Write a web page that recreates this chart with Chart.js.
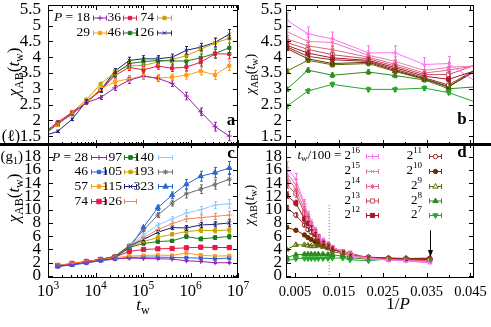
<!DOCTYPE html>
<html>
<head>
<meta charset="utf-8">
<script src="https://cdn.jsdelivr.net/npm/chart.js@4.4.1/dist/chart.umd.min.js"></script>
<style>
  body { margin: 0; background: #fff; width: 491px; height: 327px; overflow: hidden; position: relative; }
  canvas { position: absolute; }
  #sep { position: absolute; left: 0; top: 143px; width: 491px; height: 3px; background: #000; }
</style>
</head>
<body>
<canvas id="chA" width="245" height="150" style="left:0;top:0"></canvas>
<canvas id="chB" width="246" height="150" style="left:245px;top:0"></canvas>
<canvas id="chC" width="252" height="189" style="left:0;top:138px"></canvas>
<canvas id="chD" width="246" height="189" style="left:245px;top:138px"></canvas>
<div id="sep"></div>
<script>
// ---- panel a : chi_AB(t_w) vs t_w, model (l) ----
let twA = [800, 1600, 3200, 6400, 12800, 25600, 51200, 102400, 204800, 409600, 819200, 1638400, 3276800, 6553600];
let pA = [18, 29, 36, 46, 74, 126];
let chiA18  = [1.50, 1.91, 2.20, 2.56, 2.72, 3.03, 3.27, 3.40, 3.33, 3.17, 2.77, 2.27, 1.80, 1.50];
let chiA29  = [1.55, 1.88, 2.19, 2.58, 3.00, 3.22, 3.32, 3.40, 3.34, 3.37, 3.43, 3.56, 3.44, 3.73];
let chiA36  = [1.60, 1.94, 2.25, 2.56, 2.95, 3.42, 3.68, 3.60, 3.72, 3.65, 3.69, 3.84, 4.11, 4.10];
let chiA46  = [1.58, 1.88, 2.20, 2.58, 2.95, 3.47, 3.80, 3.86, 3.90, 3.88, 3.88, 3.98, 4.12, 4.30];
let chiA74  = [1.60, 1.85, 2.25, 2.65, 3.15, 3.52, 3.73, 3.74, 3.85, 3.93, 4.05, 4.25, 4.45, 4.60];
let chiA126 = [1.50, 1.65, 2.03, 2.60, 2.95, 3.56, 3.90, 3.95, 3.95, 4.00, 4.22, 4.32, 4.47, 4.73];
let errA = [0.03, 0.04, 0.04, 0.05, 0.06, 0.08, 0.10, 0.10, 0.10, 0.10, 0.12, 0.12, 0.14, 0.15];
let yTicksA = [1.5, 2, 2.5, 3, 3.5, 4, 4.5, 5, 5.5];

// ---- panel b : chi_AB vs 1/P, model (l) ----
let pB = [323, 126, 74, 46, 36, 29, 25, 18];
let kB = [16, 15, 14, 13, 12, 11, 10, 9, 8, 7];
let chiB16 = [5.18, 4.74, 4.58, 4.14, 4.14, 3.77, 3.80, 2.37];
let chiB15 = [4.82, 4.50, 4.47, 4.06, 3.87, 3.58, 3.68, 3.79];
let chiB14 = [4.58, 4.36, 4.24, 4.00, 3.78, 3.50, 3.59, 3.96];
let chiB13 = [4.47, 4.25, 4.08, 3.95, 3.72, 3.45, 3.45, 4.22];
let chiB12 = [4.38, 4.13, 3.98, 3.90, 3.67, 3.40, 3.30, 4.00];
let chiB11 = [4.33, 4.03, 3.92, 3.87, 3.62, 3.35, 3.12, 4.35];
let chiB10 = [4.28, 3.95, 3.80, 3.84, 3.58, 3.32, 3.07, 4.30];
let chiB9  = [3.56, 3.90, 3.76, 3.80, 3.55, 3.30, 3.05, 4.48];
let chiB8  = [2.98, 3.59, 3.43, 3.53, 3.42, 3.28, 3.00, 3.15];
let chiB7  = [2.44, 2.93, 3.14, 2.98, 2.98, 3.02, 2.88, 2.11];
let errB = [0.22, 0.14, 0.11, 0.09, 0.08, 0.07, 0.07, 0.07, 0.07, 0.07];

// ---- panel c : chi_AB(t_w) vs t_w, model (g1) ----
let twC = [1600, 3200, 6400, 12800, 25600, 51200, 102400, 204800, 409600, 819200, 1638400, 3276800, 6553600];
let pC = [28, 46, 57, 74, 97, 105, 115, 126, 140, 193, 323];
let chiC28  = [1.50, 1.75, 2.05, 2.40, 2.60, 2.70, 2.65, 2.60, 2.55, 2.30, 2.20, 2.00, 2.00];
let chiC46  = [1.45, 1.65, 1.95, 2.30, 2.55, 2.80, 2.85, 2.85, 2.80, 2.75, 2.70, 2.60, 2.70];
let chiC57  = [1.60, 1.85, 2.15, 2.45, 2.75, 3.00, 3.10, 3.15, 3.10, 3.45, 3.15, 3.00, 3.05];
let chiC74  = [1.60, 1.90, 2.20, 2.50, 2.85, 3.70, 4.00, 4.10, 4.15, 4.25, 4.35, 4.30, 4.30];
let chiC97  = [1.55, 1.80, 2.15, 2.50, 2.90, 4.30, 4.90, 5.20, 5.30, 5.95, 5.60, 5.80, 5.95];
let chiC105 = [1.55, 1.80, 2.15, 2.50, 2.90, 4.40, 5.20, 5.80, 6.30, 6.70, 6.90, 6.85, 6.95];
let chiC115 = [1.55, 1.80, 2.15, 2.50, 2.95, 4.50, 5.50, 6.60, 7.30, 7.25, 7.70, 7.80, 8.00];
let chiC126 = [1.55, 1.80, 2.15, 2.50, 2.95, 4.50, 5.80, 7.00, 7.90, 8.60, 8.80, 9.00, 9.20];
let chiC140 = [1.55, 1.80, 2.15, 2.50, 2.95, 4.60, 6.20, 7.70, 8.60, 9.50, 10.0, 10.7, 10.9];
let chiC193 = [1.50, 1.75, 2.10, 2.50, 2.95, 4.60, 6.90, 9.20, 11.0, 12.4, 13.1, 13.8, 14.6];
let chiC323 = [1.45, 1.70, 2.05, 2.40, 2.80, 4.20, 7.35, 10.3, 12.2, 13.85, 15.05, 15.6, 16.3];
let relErrC = [0.02, 0.02, 0.02, 0.02, 0.02, 0.03, 0.03, 0.04, 0.04, 0.05, 0.05, 0.05, 0.06];
let yTicksC = [0, 2, 4, 6, 8, 10, 12, 14, 16, 18];
let xTicksC = [1e3, 1e4, 1e5, 1e6, 1e7];

// ---- panel d : chi_AB vs 1/P, model (g1) ----
let pD = [323, 193, 140, 126, 115, 105, 97, 88, 80, 74, 63, 57, 46, 38, 33, 28];
let chiD16 = [16.3, 14.6, 10.9, 9.20, 8.00, 6.95, 5.95, 5.40, 4.90, 4.30, 3.70, 3.05, 2.70, 2.40, 2.30, 2.00];
let chiD15 = [15.6, 13.8, 10.7, 9.00, 7.80, 6.85, 5.80, 5.30, 4.80, 4.30, 3.70, 3.00, 2.60, 2.40, 2.30, 2.00];
let chiD14 = [15.05, 13.1, 10.0, 8.80, 7.70, 6.70, 5.60, 5.20, 4.80, 4.35, 3.70, 3.15, 2.70, 2.45, 2.35, 2.20];
let chiD13 = [13.85, 12.4, 9.50, 8.60, 7.25, 6.70, 5.95, 5.10, 4.70, 4.25, 3.65, 3.45, 2.75, 2.55, 2.45, 2.30];
let chiD12 = [12.2, 11.0, 8.60, 7.90, 7.30, 6.30, 5.30, 5.00, 4.60, 4.15, 3.60, 3.10, 2.80, 2.60, 2.50, 2.55];
let chiD11 = [10.3, 9.20, 7.70, 7.00, 6.60, 5.80, 5.20, 4.80, 4.50, 4.10, 3.60, 3.15, 2.85, 2.65, 2.55, 2.60];
let chiD10 = [7.35, 6.90, 6.20, 5.80, 5.50, 5.20, 4.90, 4.60, 4.30, 4.00, 3.55, 3.10, 2.85, 2.70, 2.60, 2.65];
let chiD9  = [4.00, 4.70, 4.70, 4.60, 4.50, 4.50, 4.60, 4.40, 4.20, 3.70, 3.40, 3.00, 2.80, 2.70, 2.65, 2.70];
let chiD8  = [2.80, 3.20, 3.30, 3.30, 3.30, 3.30, 3.30, 3.30, 3.25, 3.20, 3.00, 2.75, 2.55, 2.65, 2.65, 2.60];
let chiD7  = [2.30, 2.60, 2.65, 2.65, 2.65, 2.65, 2.65, 2.65, 2.65, 2.70, 2.70, 2.45, 2.30, 2.60, 2.60, 2.40];
let relErrD = [0.06, 0.055, 0.05, 0.045, 0.04, 0.035, 0.03, 0.03, 0.03, 0.03];
let xTicksD = [0.005, 0.015, 0.025, 0.035, 0.045];
let cutD = { x: 0.0128, y0: -0.3, y1: 10.7 };
let arrowD = { x: 1 / 28, y0: 6.9, y1: 2.85 };

// ---- styles ----
const FAM = "'Liberation Serif', 'DejaVu Serif', serif";
const F = (s, st) => (st ? st + ' ' : '') + s + 'px ' + FAM;

let colA = ['#9b20b0', '#ff9c1e', '#e41a48', '#1b7a1b', '#c9a200', '#1f1f7e'];
let stA = [{ s: 'cross', r: 2.5 }, { s: 'rect', r: 2.2 }, { s: 'rect', r: 2.2 }, { s: 'rect', r: 2.2 }, { s: 'rect', r: 2.2 }, { s: 'crossRot', r: 2.2 }];
let colC = ['#9b20b0', '#2a66d6', '#ff9c1e', '#e41a48', '#1b7a1b', '#c9a200', '#1f1f7e', '#ef8c55', '#90c8ff', '#6e6e6e', '#2a66d6'];
let stC = [{ s: 'cross', r: 2.5 }, { s: 'rect', r: 2.2 }, { s: 'rect', r: 2.2 }, { s: 'rect', r: 3 }, { s: 'rect', r: 2.4 },
  { s: 'rect', r: 2.2 }, { s: 'crossRot', r: 2.5 }, { s: 'line', r: 2.5 }, { s: 'line', r: 2.5 }, { s: 'star', r: 2.5 }, { s: 'triangle', r: 3 }];
let colD = ['#ff70ff', '#f07ab4', '#e06a8c', '#cc4a5e', '#a8142c', '#902a2a', '#6a3000', '#5b6b00', '#2f8a20', '#25a828'];
let stD = [{ s: 'cross', r: 2.5 }, { s: 'crossRot', r: 2.5 }, { s: 'star', r: 2.5 }, { s: 'rect', r: 2.8, open: true }, { s: 'rect', r: 2.8 },
  { s: 'circle', r: 2.2, open: true }, { s: 'circle', r: 2.2 }, { s: 'triangle', r: 3, open: true }, { s: 'triangle', r: 3 }, { s: 'triangle', r: 3, rot: 180 }];

// ---- text helpers ----
function drawRich(ctx, parts, x, y, align, rot) {
  ctx.save();
  ctx.translate(x, y);
  if (rot) ctx.rotate(rot);
  ctx.textBaseline = 'middle';
  ctx.textAlign = 'left';
  ctx.fillStyle = '#000';
  let w = 0;
  parts.forEach(p => { ctx.font = p.f; w += ctx.measureText(p.t).width; });
  let cx = align === 'center' ? -w / 2 : (align === 'right' ? -w : 0);
  parts.forEach(p => { ctx.font = p.f; ctx.fillText(p.t, cx, p.dy || 0); cx += ctx.measureText(p.t).width; });
  ctx.restore();
}
let chiParts = s => [
  { t: 'χ', f: F(s, 'italic') }, { t: 'AB', f: F(Math.round(s * 0.68)), dy: s * 0.3 },
  { t: '(', f: F(s) }, { t: 't', f: F(s, 'italic') }, { t: 'w', f: F(Math.round(s * 0.68)), dy: s * 0.3 }, { t: ')', f: F(s) }
];

function mark(ctx, st, x, y, color) {
  let r = st.r;
  ctx.save();
  ctx.translate(x, y);
  ctx.rotate((st.rot || 0) * Math.PI / 180);
  ctx.strokeStyle = color;
  ctx.fillStyle = st.open ? '#fff' : color;
  ctx.lineWidth = 1;
  ctx.beginPath();
  if (st.s === 'cross' || st.s === 'star') { ctx.moveTo(-r, 0); ctx.lineTo(r, 0); ctx.moveTo(0, -r); ctx.lineTo(0, r); }
  if (st.s === 'crossRot' || st.s === 'star') { let q = r * 0.75; ctx.moveTo(-q, -q); ctx.lineTo(q, q); ctx.moveTo(-q, q); ctx.lineTo(q, -q); }
  if (st.s === 'line') { ctx.moveTo(-r, 0); ctx.lineTo(r, 0); }
  if (st.s === 'rect') { let q = r * 0.75; ctx.rect(-q, -q, 2 * q, 2 * q); ctx.fill(); }
  if (st.s === 'circle') { ctx.arc(0, 0, r, 0, Math.PI * 2); ctx.fill(); }
  if (st.s === 'triangle') { ctx.moveTo(0, -r); ctx.lineTo(r * 0.9, r * 0.55); ctx.lineTo(-r * 0.9, r * 0.55); ctx.closePath(); ctx.fill(); }
  ctx.stroke();
  ctx.restore();
}

// ---- decoration plugin: frame, inward ticks, tick labels, error bars, legend ----
function makeDeco(cfg) {
  return {
    id: 'deco',
    afterDatasetsDraw(chart) {
      const ctx = chart.ctx, a = chart.chartArea, ys = chart.scales.y;
      ctx.save();
      ctx.beginPath(); ctx.rect(a.left, a.top, a.right - a.left, a.bottom - a.top); ctx.clip();
      ctx.lineWidth = 1;
      chart.data.datasets.forEach((ds, di) => {
        if (!ds.err) return;
        const meta = chart.getDatasetMeta(di);
        ctx.strokeStyle = ds.borderColor;
        meta.data.forEach((pt, i) => {
          const v = ds.data[i].y, e = ds.err[i];
          const x = Math.round(pt.x) + 0.5, y1 = ys.getPixelForValue(v + e), y2 = ys.getPixelForValue(v - e);
          ctx.beginPath();
          ctx.moveTo(x, y1); ctx.lineTo(x, y2);
          ctx.moveTo(x - 1.5, y1); ctx.lineTo(x + 1.5, y1);
          ctx.moveTo(x - 1.5, y2); ctx.lineTo(x + 1.5, y2);
          ctx.stroke();
        });
      });
      ctx.restore();
    },
    afterDraw(chart) {
      const ctx = chart.ctx, a = chart.chartArea, xs = chart.scales.x, ys = chart.scales.y;
      const seg = (x1, y1, x2, y2) => { ctx.beginPath(); ctx.moveTo(x1, y1); ctx.lineTo(x2, y2); ctx.stroke(); };
      ctx.save();
      ctx.strokeStyle = '#000';
      ctx.lineWidth = 1;
      ctx.strokeRect(a.left + 0.5, a.top + 0.5, a.right - a.left - 1, a.bottom - a.top - 1);
      cfg.yTicks.forEach(v => {
        const y = Math.round(ys.getPixelForValue(v)) + 0.5;
        seg(a.left, y, a.left + 5, y); seg(a.right - 5, y, a.right, y);
        drawRich(ctx, [{ t: String(v), f: F(17) }], a.left - cfg.yGap, ys.getPixelForValue(v), 'right');
      });
      cfg.xTicks.forEach(v => {
        const x = Math.round(xs.getPixelForValue(v)) + 0.5;
        seg(x, a.bottom, x, a.bottom - 5); seg(x, a.top, x, a.top + 5);
      });
      (cfg.xMinor || []).forEach(v => {
        const x = Math.round(xs.getPixelForValue(v)) + 0.5;
        seg(x, a.bottom, x, a.bottom - 3); seg(x, a.top, x, a.top + 3);
      });
      if (cfg.arrow) {
        const x = Math.round(xs.getPixelForValue(cfg.arrow.x)) + 0.5;
        const y0 = ys.getPixelForValue(cfg.arrow.y0), y1 = ys.getPixelForValue(cfg.arrow.y1);
        seg(x, y0, x, y1 - 5);
        ctx.fillStyle = '#000';
        ctx.beginPath(); ctx.moveTo(x, y1); ctx.lineTo(x - 2.5, y1 - 7); ctx.lineTo(x + 2.5, y1 - 7); ctx.closePath(); ctx.fill();
      }
      (cfg.xLabels || []).forEach(l => drawRich(ctx, l.parts, xs.getPixelForValue(l.v), cfg.xLabelY, 'center'));
      (cfg.texts || []).forEach(t => drawRich(ctx, t.parts, t.x, t.y, t.align || 'center', t.rot));
      if (cfg.legend) {
        const L = cfg.legend;
        L.items.forEach(it => {
          const ds = chart.data.datasets[it.ds], col = L.cols[it.col], y = L.rows[it.row];
          drawRich(ctx, it.parts, col.tr, y, 'right');
          ctx.strokeStyle = ds.borderColor;
          seg(col.x1, y + 0.5, col.x2, y + 0.5);
          seg(col.x1 + 0.5, y - 2, col.x1 + 0.5, y + 3);
          seg(col.x2 - 0.5, y - 2, col.x2 - 0.5, y + 3);
          mark(ctx, ds.st, (col.x1 + col.x2) / 2, y + 0.5, ds.borderColor);
        });
      }
      ctx.restore();
    }
  };
}

function mkDs(xs, ys, color, st, err) {
  return {
    data: xs.map((x, i) => ({ x: x, y: ys[i] })),
    err: err, st: st,
    borderColor: color, backgroundColor: color, borderWidth: 1,
    pointStyle: st.s, pointRadius: st.r, pointBorderWidth: 1,
    pointBackgroundColor: st.open ? '#fff' : color, pointBorderColor: color,
    pointRotation: st.rot || 0, tension: 0, clip: 0
  };
}

// both axes hidden: the plot box is set by the padding alone, labels come from the plugin
function makeChart(id, cfg, datasets) {
  return new Chart(document.getElementById(id), {
    type: 'line',
    data: { datasets: datasets },
    options: {
      responsive: false, animation: false, events: [], devicePixelRatio: 1,
      layout: { padding: cfg.pad },
      plugins: { legend: { display: false }, tooltip: { enabled: false } },
      scales: {
        x: { type: cfg.xType, min: cfg.xMin, max: cfg.xMax, display: false },
        y: { type: 'linear', min: cfg.yMin, max: cfg.yMax, display: false }
      }
    },
    plugins: [makeDeco(cfg)]
  });
}

let minorLog = [];
[1e3, 1e4, 1e5, 1e6].forEach(d => { for (let m = 2; m <= 9; m++) minorLog.push(m * d); });
let minorD = [0.01, 0.02, 0.03, 0.04];

// ---- panel a ----
let seriesA = [chiA18, chiA29, chiA36, chiA46, chiA74, chiA126];
makeChart('chA', {
  pad: { left: 48, top: 5, right: 7, bottom: 4 }, yGap: 7,
  xType: 'logarithmic', xMin: 1e3, xMax: 1e7, yMin: 1.2165, yMax: 5.657,
  yTicks: yTicksA, xTicks: xTicksC, xMinor: minorLog,
  texts: [
    { parts: chiParts(17), x: 14.5, y: 72, rot: -Math.PI / 2 },
    { parts: [{ t: '(ℓ)', f: F(16) }], x: 20, y: 137, align: 'right' },
    { parts: [{ t: 'a', f: F(17, 'bold') }], x: 231, y: 121 }
  ],
  legend: {
    rows: [17.5, 32.5],
    cols: [{ tr: 90, x1: 93, x2: 107 }, { tr: 121, x1: 123, x2: 137 }, { tr: 154, x1: 157, x2: 172 }],
    items: pA.map((p, i) => ({
      ds: i, col: Math.floor(i / 2), row: i % 2,
      parts: i === 0 ? [{ t: 'P', f: F(13.5, 'italic') }, { t: ' = ' + p, f: F(13.5) }] : [{ t: String(p), f: F(13.5) }]
    }))
  }
}, seriesA.map((s, i) => mkDs(twA, s, colA[i], stA[i], errA)));

// ---- panel b ----
let seriesB = [chiB16, chiB15, chiB14, chiB13, chiB12, chiB11, chiB10, chiB9, chiB8, chiB7];
let xB = pB.map(p => 1 / p);
makeChart('chB', {
  pad: { left: 41, top: 5, right: 17, bottom: 4 }, yGap: 4,
  xType: 'linear', xMin: 0.00294, xMax: 0.0458, yMin: 1.2165, yMax: 5.657,
  yTicks: yTicksA, xTicks: xTicksD, xMinor: minorD,
  texts: [
    { parts: chiParts(14), x: 6, y: 74, rot: -Math.PI / 2 },
    { parts: [{ t: 'b', f: F(17, 'bold') }], x: 217, y: 120 }
  ]
}, seriesB.map((s, i) => mkDs(xB, s, colD[i], stD[i], pB.map(() => errB[i]))));

// ---- panel c ----
let seriesC = [chiC28, chiC46, chiC57, chiC74, chiC97, chiC105, chiC115, chiC126, chiC140, chiC193, chiC323];
makeChart('chC', {
  pad: { left: 48, top: 5, right: 14, bottom: 49 }, yGap: 7,
  xType: 'logarithmic', xMin: 1e3, xMax: 1e7, yMin: -0.302, yMax: 20.07,
  yTicks: yTicksC, xTicks: xTicksC, xMinor: minorLog,
  xLabelY: 154,
  xLabels: xTicksC.map(v => ({ v: v, parts: [{ t: '10', f: F(16.5) }, { t: String(Math.round(Math.log10(v))), f: F(11.5), dy: -6 }] })),
  texts: [
    { parts: chiParts(17), x: 14.5, y: 60, rot: -Math.PI / 2 },
    { parts: [{ t: '(g', f: F(15) }, { t: '1', f: F(10), dy: 4 }, { t: ')', f: F(15) }], x: 23, y: 19, align: 'right' },
    { parts: [{ t: 'c', f: F(17, 'bold') }], x: 231, y: 16 },
    { parts: [{ t: 't', f: F(17, 'italic') }, { t: 'w', f: F(12), dy: 4.5 }], x: 143, y: 168 }
  ],
  legend: {
    rows: [19, 33.5, 48, 63],
    cols: [{ tr: 88, x1: 91, x2: 107 }, { tr: 122, x1: 124, x2: 137 }, { tr: 154, x1: 158, x2: 173 }],
    items: pC.map((p, i) => ({
      ds: i, col: Math.floor(i / 4), row: i % 4,
      parts: i === 0 ? [{ t: 'P', f: F(13.5, 'italic') }, { t: ' = ' + p, f: F(13.5) }] : [{ t: String(p), f: F(13.5) }]
    }))
  }
}, seriesC.map((s, i) => mkDs(twC, s, colC[i], stC[i], s.map((v, j) => v * relErrC[j]))));

// ---- panel d ----
let seriesD = [chiD16, chiD15, chiD14, chiD13, chiD12, chiD11, chiD10, chiD9, chiD8, chiD7];
let xD = pD.map(p => 1 / p);
let dsD = seriesD.map((s, i) => mkDs(xD, s, colD[i], stD[i], s.map(v => v * relErrD[i])));
dsD.push({
  data: [{ x: cutD.x, y: cutD.y0 }, { x: cutD.x, y: cutD.y1 }],
  borderColor: '#777', borderWidth: 1, borderDash: [1, 2], pointRadius: 0, clip: 0
});
makeChart('chD', {
  pad: { left: 41, top: 5, right: 17, bottom: 49 }, yGap: 4,
  xType: 'linear', xMin: 0.00294, xMax: 0.0458, yMin: -0.302, yMax: 20.07,
  yTicks: yTicksC, xTicks: xTicksD, xMinor: minorD,
  arrow: arrowD,
  xLabelY: 154.5,
  xLabels: xTicksD.map(v => ({ v: v, parts: [{ t: v.toFixed(3), f: F(14.5) }] })),
  texts: [
    { parts: chiParts(14), x: 5, y: 67, rot: -Math.PI / 2 },
    { parts: [{ t: 'd', f: F(17, 'bold') }], x: 217, y: 15 },
    { parts: [{ t: '1/', f: F(17) }, { t: 'P', f: F(17, 'italic') }], x: 153, y: 167 }
  ],
  legend: {
    rows: [18, 33, 48, 62.5, 77],
    cols: [{ tr: 115, x1: 121, x2: 134 }, { tr: 177, x1: 184, x2: 197 }],
    items: kB.map((k, i) => ({
      ds: i, col: Math.floor(i / 5), row: i % 5,
      parts: i === 0
        ? [{ t: 't', f: F(13, 'italic') }, { t: 'w', f: F(9), dy: 3 }, { t: '/100 = 2', f: F(13) }, { t: String(k), f: F(9), dy: -5 }]
        : [{ t: '2', f: F(13) }, { t: String(k), f: F(9), dy: -5 }]
    }))
  }
}, dsD);
</script>
</body>
</html>
